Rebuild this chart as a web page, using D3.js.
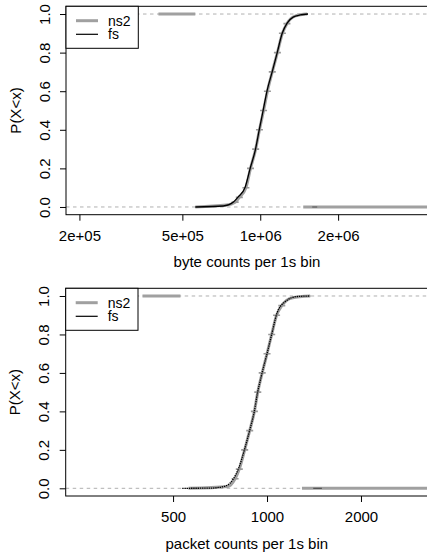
<!DOCTYPE html>
<html>
<head>
<meta charset="utf-8">
<script src="https://cdn.jsdelivr.net/npm/d3@7"></script>
<style>
  html, body { margin: 0; padding: 0; background: #fff; }
  svg { display: block; }
  text { font-family: "Liberation Sans", Arial, Helvetica, sans-serif; font-size: 15px; fill: #000; }
</style>
</head>
<body>
<svg id="chart" width="427" height="557"></svg>
<script>
// ---------- DATA ----------
// Panel 1: byte counts per 1s bin
const byteRange = [2.0e5, 3.95e6];
const byteTicks = [2e5, 5e5, 1e6, 2e6];
const byteTickLabels = ["2e+05", "5e+05", "1e+06", "2e+06"];
const byteFsX = [5.61e5, 7.2e5, 7.88e5, 8.22e5, 8.75e5, 9.15e5, 9.57e5, 9.91e5, 1.027e6, 1.064e6, 1.112e6, 1.163e6, 1.216e6, 1.27e6, 1.34e6, 1.427e6, 1.53e6];
const byteFsP = [0, 0.005, 0.026, 0.052, 0.104, 0.202, 0.295, 0.399, 0.503, 0.606, 0.70, 0.80, 0.90, 0.953, 0.984, 0.995, 1.0];
const byteNs2X = [5.61e5, 7.4e5, 8.0e5, 8.3e5, 8.8e5, 9.17e5, 9.6e5, 9.93e5, 1.03e6, 1.066e6, 1.113e6, 1.165e6, 1.218e6, 1.268e6, 1.37e6, 1.52e6];
const byteNs2P = [0, 0.01, 0.025, 0.05, 0.1, 0.2, 0.3, 0.4, 0.5, 0.6, 0.7, 0.8, 0.9, 0.95, 0.99, 1.0];
const byteNs2Flat = [{p: 1, x0: 4.04e5, x1: 5.61e5}, {p: 0, x0: 1.466e6, x1: 6e6}];
const byteFsFlat = [{p: 0, x0: 1.588e6, x1: 1.66e6}];

// Panel 2: packet counts per 1s bin
const pktRange = [250, 2970];
const pktTicks = [500, 1000, 2000];
const pktTickLabels = ["500", "1000", "2000"];
const pktFsX = [535, 659, 736, 782, 811, 846, 879, 910, 933, 952, 964, 1000, 1037, 1076, 1144, 1247, 1375];
const pktFsP = [0, 0.001, 0.012, 0.052, 0.104, 0.199, 0.299, 0.398, 0.50, 0.562, 0.60, 0.70, 0.806, 0.91, 0.971, 0.997, 1.0];
const pktNs2X = [560, 750, 790, 815, 848, 880, 911, 934, 965, 1000, 1035, 1073, 1115, 1200, 1375];
const pktNs2P = [0, 0.01, 0.05, 0.1, 0.2, 0.3, 0.4, 0.5, 0.6, 0.7, 0.8, 0.9, 0.95, 0.99, 1.0];
const pktNs2Flat = [{p: 1, x0: 399, x1: 528}, {p: 0, x0: 1294, x1: 4000}];
const pktFsFlat = [{p: 0, x0: 1406, x1: 1499}];

const yTicks = [0, 0.2, 0.4, 0.6, 0.8, 1.0];
const yTickLabels = ["0.0", "0.2", "0.4", "0.6", "0.8", "1.0"];
const yTitle = "P(X<x)";
const seriesNames = ["ns2", "fs"];

// ---------- DRAW ----------
const svg = d3.select("#chart");
const GRAY = "#a0a0a0";
const REF = "#b0b0b0";

function logPad(r) {
  const a = Math.log10(r[0]), b = Math.log10(r[1]), p = (b - a) * 0.04;
  return [Math.pow(10, a - p), Math.pow(10, b + p)];
}

function panel(cfg) {
  const g = svg.append("g");
  const x = d3.scaleLog().domain(logPad(cfg.range)).range([cfg.left, cfg.right]);
  const y = d3.scaleLinear().domain([-0.04, 1.04]).range([cfg.bottom, cfg.top]);

  const cid = "clip" + cfg.id;
  svg.append("clipPath").attr("id", cid).append("rect")
    .attr("x", cfg.left).attr("y", cfg.top)
    .attr("width", cfg.right - cfg.left).attr("height", cfg.bottom - cfg.top);
  const pg = g.append("g").attr("clip-path", `url(#${cid})`);

  [0, 1].forEach(v => {
    pg.append("line").attr("x1", cfg.left).attr("x2", cfg.right)
      .attr("y1", y(v)).attr("y2", y(v))
      .attr("stroke", REF).attr("stroke-width", 1).attr("stroke-dasharray", "3.5,3.5");
  });

  const line = d3.line().x(d => x(d[0])).y(d => y(d[1])).curve(d3.curveMonotoneX);

  const ns2 = cfg.ns2X.map((v, i) => [v, cfg.ns2P[i]]);
  pg.append("path").datum(ns2).attr("d", line)
    .attr("fill", "none").attr("stroke", GRAY).attr("stroke-width", 3);
  cfg.ns2Flat.forEach(s => {
    pg.append("line").attr("x1", x(s.x0)).attr("x2", x(s.x1))
      .attr("y1", y(s.p)).attr("y2", y(s.p))
      .attr("stroke", GRAY).attr("stroke-width", 3);
  });
  ns2.filter(d => d[1] > 0.015 && d[1] < 0.985).forEach(d => {
    pg.append("line").attr("x1", x(d[0]) - 3.5).attr("x2", x(d[0]) + 3.5)
      .attr("y1", y(d[1])).attr("y2", y(d[1]))
      .attr("stroke", "#999").attr("stroke-width", 1.6);
  });

  const fs = cfg.fsX.map((v, i) => [v, cfg.fsP[i]]);
  pg.append("path").datum(fs).attr("d", line)
    .attr("fill", "none").attr("stroke", "#000").attr("stroke-width", 1.3)
    .attr("stroke-dasharray", cfg.fsDash || null);
  cfg.fsFlat.forEach(s => {
    pg.append("line").attr("x1", x(s.x0)).attr("x2", x(s.x1))
      .attr("y1", y(s.p)).attr("y2", y(s.p))
      .attr("stroke", "#555").attr("stroke-width", 1.2);
  });

  const xa = g.append("g").attr("transform", `translate(0,${cfg.bottom})`)
    .call(d3.axisBottom(x).tickValues(cfg.xTicks).tickFormat((d, i) => cfg.xTickLabels[i]).tickSize(6));
  xa.select(".domain").remove();
  xa.selectAll(".tick line").attr("stroke", "#000");
  xa.selectAll(".tick text").attr("y", 26.3).attr("dy", 0)
    .style("font-family", "'Liberation Sans', Arial, Helvetica, sans-serif").style("font-size", "15px");

  const ya = g.append("g").attr("transform", `translate(${cfg.left},0)`)
    .call(d3.axisLeft(y).tickValues(yTicks).tickFormat((d, i) => yTickLabels[i]).tickSize(6));
  ya.select(".domain").remove();
  ya.selectAll(".tick line").attr("stroke", "#000");
  ya.selectAll(".tick text").attr("x", null).attr("dy", 0)
    .attr("text-anchor", "middle")
    .attr("transform", "translate(-16.5,0) rotate(-90)")
    .style("font-family", "'Liberation Sans', Arial, Helvetica, sans-serif").style("font-size", "15px");

  g.append("rect").attr("x", cfg.left).attr("y", cfg.top)
    .attr("width", cfg.right - cfg.left).attr("height", cfg.bottom - cfg.top)
    .attr("fill", "none").attr("stroke", "#000").attr("stroke-width", 1);

  g.append("text").attr("x", (cfg.left + cfg.right) / 2).attr("y", cfg.bottom + 52.6)
    .attr("text-anchor", "middle").text(cfg.xTitle);
  const yc = (y(0) + y(1)) / 2;
  g.append("text").attr("transform", `translate(${cfg.left - 45.5},${yc}) rotate(-90)`)
    .attr("text-anchor", "middle").text(yTitle);

  const lg = g.append("g");
  lg.append("rect").attr("x", cfg.left).attr("y", cfg.top)
    .attr("width", 72.3).attr("height", 42)
    .attr("fill", "#fff").attr("stroke", "#000").attr("stroke-width", 1);
  const rows = [cfg.top + 14.4, cfg.top + 28];
  const styles = [{c: GRAY, w: 3}, {c: "#000", w: 1.2}];
  seriesNames.forEach((n, i) => {
    lg.append("line").attr("x1", cfg.left + 10).attr("x2", cfg.left + 32)
      .attr("y1", rows[i]).attr("y2", rows[i])
      .attr("stroke", styles[i].c).attr("stroke-width", styles[i].w);
    lg.append("text").attr("x", cfg.left + 42).attr("y", rows[i]).attr("dy", "0.35em")
      .style("font-size", "14px").text(n);
  });
}

panel({
  id: 1, left: 66, right: 428, top: 6.3, bottom: 214.7,
  range: byteRange, xTicks: byteTicks, xTickLabels: byteTickLabels,
  fsX: byteFsX, fsP: byteFsP, ns2X: byteNs2X, ns2P: byteNs2P,
  ns2Flat: byteNs2Flat, fsFlat: byteFsFlat,
  xTitle: "byte counts per 1s bin"
});

panel({
  id: 2, left: 65.7, right: 428, top: 288.3, bottom: 496,
  range: pktRange, xTicks: pktTicks, xTickLabels: pktTickLabels,
  fsX: pktFsX, fsP: pktFsP, ns2X: pktNs2X, ns2P: pktNs2P,
  ns2Flat: pktNs2Flat, fsFlat: pktFsFlat, fsDash: "1.4,0.8",
  xTitle: "packet counts per 1s bin"
});
</script>
</body>
</html>
